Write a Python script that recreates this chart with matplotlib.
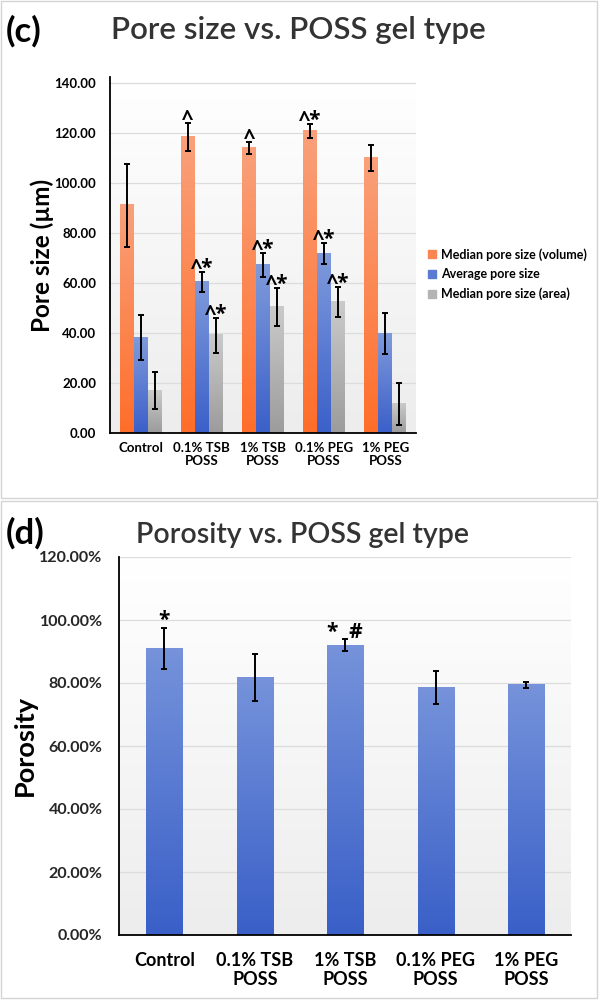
# pore size / porosity bar charts for the POSS gel types (panels c and d)
import numpy as np
import matplotlib
matplotlib.use("Agg")
from matplotlib import pyplot as plt
from matplotlib.colors import LinearSegmentedColormap
from matplotlib.patches import Rectangle, Patch
from matplotlib.ticker import FuncFormatter

plt.rcParams['font.family'] = ['Lato', 'DejaVu Sans']

groups = ["Control", "0.1% TSB\nPOSS", "1% TSB\nPOSS", "0.1% PEG\nPOSS", "1% PEG\nPOSS"]

# panel (c): pore size in um
median_vol = [91.3, 118.5, 114.3, 120.9, 110.1]
median_vol_err = [16.6, 5.5, 2.4, 2.7, 5.2]
avg_pore = [38.3, 60.4, 67.2, 71.9, 39.9]
avg_pore_err = [9.1, 4.0, 4.8, 4.1, 8.1]
median_area = [17.1, 39.2, 50.5, 52.5, 11.9]
median_area_err = [7.5, 7.0, 7.6, 6.0, 8.4]
vol_marks = ["", "^", "^", "^*", ""]
avg_marks = ["", "^*", "^*", "^*", ""]
area_marks = ["", "^*", "^*", "^*", ""]
series_names = ["Median pore size (volume)", "Average pore size", "Median pore size (area)"]

# panel (d): porosity (fraction)
porosity = [0.910, 0.817, 0.920, 0.785, 0.794]
porosity_err = [0.066, 0.075, 0.019, 0.053, 0.010]
porosity_marks = ["*", "", "*  #", "", ""]

ORANGE = ("#f9a07a", "#ff6e2a")
BLUE = ("#7f9adb", "#3b60c9")
GRAY = ("#cacaca", "#9c9c9c")


def grad_bars(ax, bars, top, bottom):
    cmap = LinearSegmentedColormap.from_list("g", [bottom, top])
    img = np.linspace(0, 1, 64).reshape(-1, 1)
    for b in bars:
        x, y = b.get_x(), b.get_y()
        w, h = b.get_width(), b.get_height()
        ax.imshow(img, cmap=cmap, origin='lower', extent=(x, x + w, y, y + h),
                  aspect='auto', zorder=2, interpolation='bilinear')
        b.set_visible(False)


def grad_bg(ax, ytop):
    cmap = LinearSegmentedColormap.from_list("bg", ["#ededed", "#ffffff"])
    ax.imshow(np.linspace(0, 1, 64).reshape(-1, 1), cmap=cmap, origin='lower',
              extent=(-0.5, 4.5, 0, ytop), aspect='auto', zorder=0, interpolation='bilinear')


def style_axes(ax, ytop):
    ax.set_xlim(-0.5, 4.5)
    ax.set_ylim(0, ytop)
    for s in ['top', 'right']:
        ax.spines[s].set_visible(False)
    for s in ['left', 'bottom']:
        ax.spines[s].set_color('black')
        ax.spines[s].set_linewidth(1.3)
    ax.set_axisbelow(True)
    ax.yaxis.grid(True, color='#dcdcdc', linewidth=0.9)
    ax.tick_params(length=0)
    ax.set_facecolor('none')


def mark(ax, x, ytop, txt, dy, size):
    if txt:
        ax.annotate(txt, (x, ytop), xytext=(0, dy), textcoords='offset points',
                    ha='center', va='baseline', fontsize=size, fontweight='bold',
                    family=['Open Sans', 'DejaVu Sans'], color='black', zorder=5)


fig = plt.figure(figsize=(6, 10), dpi=100)

# panel borders
fig.add_artist(Rectangle((0.002, 0.502), 0.993, 0.497, transform=fig.transFigure,
                         fill=False, ec='#d4d4d4', lw=1))
fig.add_artist(Rectangle((0.002, 0.002), 0.993, 0.497, transform=fig.transFigure,
                         fill=False, ec='#d4d4d4', lw=1))

# ---- (c) pore size
ax1 = fig.add_axes([0.1833, 0.5667, 0.51, 0.3563])
top1 = 142.5
x = np.arange(len(groups))
w = 0.228
style_axes(ax1, top1)
grad_bg(ax1, top1)
cols = [ORANGE, BLUE, GRAY]
vals = [median_vol, avg_pore, median_area]
errs = [median_vol_err, avg_pore_err, median_area_err]
marks = [vol_marks, avg_marks, area_marks]
for i in range(3):
    xi = x + (i - 1) * w
    bars = ax1.bar(xi, vals[i], w, color=cols[i][1])
    grad_bars(ax1, bars, cols[i][0], cols[i][1])
    ax1.errorbar(xi, vals[i], yerr=errs[i], fmt='none', ecolor='black',
                 elinewidth=1.4, capsize=2.5, capthick=1.4, zorder=4)
    for j in range(len(groups)):
        mark(ax1, xi[j], vals[i][j] + errs[i][j], marks[i][j], -1.5, 15)
ax1.set_xlim(-0.5, 4.5)
ax1.set_ylim(0, top1)
ax1.set_yticks(np.arange(0, 141, 20))
ax1.yaxis.set_major_formatter(FuncFormatter(lambda v, p: "%.2f" % v))
ax1.set_xticks(x)
ax1.set_xticklabels(groups, fontsize=9.5, fontweight='bold', linespacing=1.15)
plt.setp(ax1.get_yticklabels(), fontsize=9.5, fontweight='bold')
ax1.tick_params(axis='x', pad=6)
ax1.tick_params(axis='y', pad=10)

handles = [Patch(color="#fb8552"), Patch(color="#5a7bd3"), Patch(color="#b4b4b4")]
fig.legend(handles, series_names, loc='upper left', bbox_to_anchor=(0.705, 0.757),
           frameon=False, prop={'weight': 'bold', 'size': 9}, handlelength=0.6,
           handleheight=0.6, handletextpad=0.45, labelspacing=0.6, borderaxespad=0)

fig.text(42 / 600, 1 - 255 / 1000, "Pore size (µm)", rotation=90, ha='center', va='center',
         fontsize=17.5, fontweight='bold')
fig.text(6 / 600, 1 - 31 / 1000, "(c)", ha='left', va='center', fontsize=25, fontweight='bold')
fig.text(298 / 600, 1 - 30 / 1000, "Pore size vs. POSS gel type", ha='center', va='center',
         fontsize=22.5, fontweight='semibold', color='#333333')

# ---- (d) porosity
ax2 = fig.add_axes([0.1988, 0.065, 0.7533, 0.378])
top2 = 1.2
style_axes(ax2, top2)
grad_bg(ax2, top2)
bars = ax2.bar(x, porosity, 0.4, color=BLUE[1])
grad_bars(ax2, bars, "#7592da", "#3a60c8")
ax2.errorbar(x, porosity, yerr=porosity_err, fmt='none', ecolor='black',
             elinewidth=1.4, capsize=2.5, capthick=1.4, zorder=4)
for j in range(len(groups)):
    mark(ax2, x[j], porosity[j] + porosity_err[j], porosity_marks[j], 1, 15)
ax2.set_xlim(-0.5, 4.5)
ax2.set_ylim(0, top2)
ax2.set_yticks(np.arange(0, 1.21, 0.2))
ax2.yaxis.set_major_formatter(FuncFormatter(lambda v, p: "%.2f%%" % (v * 100)))
ax2.set_xticks(x)
ax2.set_xticklabels(groups, fontsize=13, fontweight='bold', linespacing=1.2)
plt.setp(ax2.get_yticklabels(), fontsize=11.5, fontweight='bold', color='#262626')
ax2.tick_params(axis='x', pad=12)
ax2.tick_params(axis='y', pad=12)

fig.text(25 / 600, 1 - 746 / 1000, "Porosity", rotation=90, ha='center', va='center',
         fontsize=19.5, fontweight='bold')
fig.text(6 / 600, 1 - 533 / 1000, "(d)", ha='left', va='center', fontsize=25, fontweight='bold')
fig.text(302 / 600, 1 - 535 / 1000, "Porosity vs. POSS gel type", ha='center', va='center',
         fontsize=20.5, fontweight='semibold', color='#333333')

fig.savefig("out.png", dpi=100)
